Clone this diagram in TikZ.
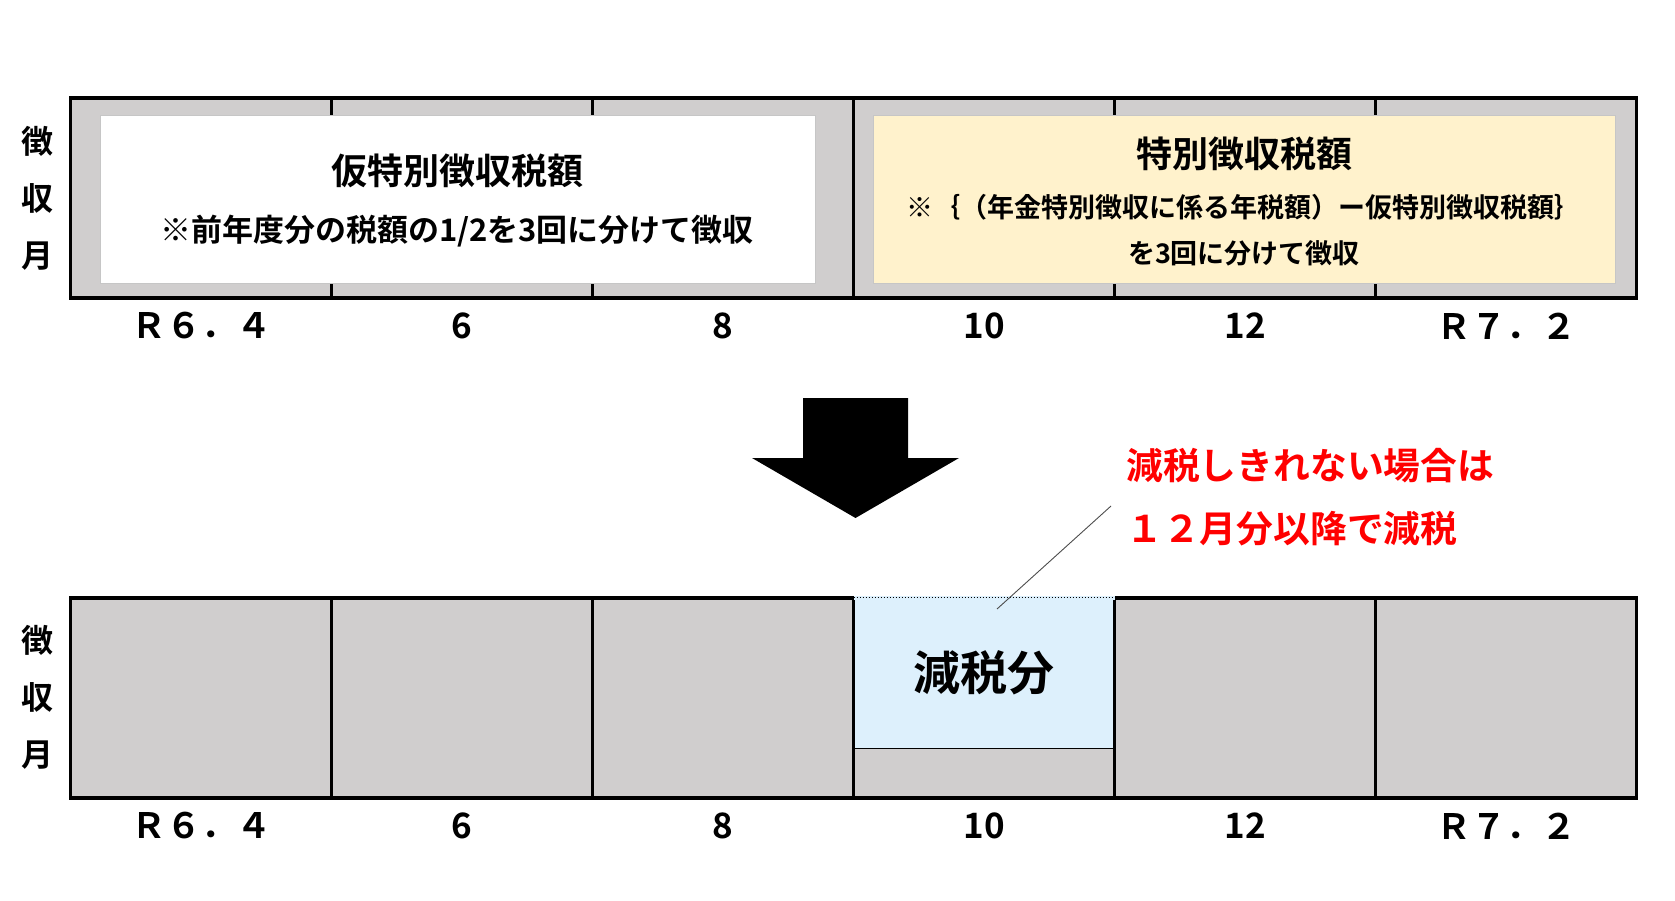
\documentclass[tikz,border=0pt]{standalone}
\usepackage{fontspec}
\setmainfont{Noto Sans CJK JP}[BoldFont={* Bold}]
\definecolor{cellgray}{HTML}{D0CECE}
\definecolor{ybg}{HTML}{FFF2CC}
\definecolor{bbg}{HTML}{DDF0FC}
\definecolor{redtxt}{HTML}{FF0000}
\begin{document}
\begin{tikzpicture}[x=1pt,y=-1pt,
  cell/.style={draw=black, line width=2.5pt, fill=cellgray, minimum width=261pt, minimum height=200pt, inner sep=0pt, outer sep=0pt},
  innerbox/.style={draw=gray!45, line width=1pt, inner sep=0pt, outer sep=0pt},
  sidelbl/.style={font=\bfseries\fontsize{32}{57}\selectfont, align=center, inner sep=0pt},
  ttl/.style={font=\bfseries\fontsize{36}{40}\selectfont, inner sep=0pt},
  subt/.style={font=\bfseries\fontsize{31}{34}\selectfont, inner sep=0pt},
  ysubt/.style={font=\bfseries\fontsize{27}{30}\selectfont, inner sep=0pt},
  monlbl/.style={font=\bfseries\fontsize{35}{40}\selectfont, inner sep=0pt},
  redt/.style={font=\bfseries\fontsize{36.8}{40}\selectfont, text=redtxt, inner sep=0pt, anchor=west},
  bigt/.style={font=\bfseries\fontsize{47}{52}\selectfont, inner sep=0pt}]
\useasboundingbox (0,0) rectangle (1675,901);

% ---- top bar ----
\foreach \i in {0,...,5}
  \node[cell] (t\i) at ({201+261*\i},198) {};
\draw[line width=3.5pt] (t0.north west) rectangle (t5.south east);
\node[innerbox, fill=white, minimum width=715pt, minimum height=167pt] (wbox) at (457.5,199.5) {};
\node[innerbox, fill=ybg, minimum width=742pt, minimum height=167pt] (ybox) at (1244,199.5) {};
\node[ttl] (wt) at (457,171) {仮特別徴収税額};
\node[subt] (ws) at (457,231) {※前年度分の税額の1/2を3回に分けて徴収};
\node[ttl] (yt) at (1244,154) {特別徴収税額};
\node[ysubt] (ys1) at (1244,207) {※｛（年金特別徴収に係る年税額）ー仮特別徴収税額｝};
\node[ysubt] (ys2) at (1244,253) {を3回に分けて徴収};
\node[sidelbl] (side1) at (37,198) {徴\\収\\月};
\foreach \t [count=\i from 0] in {Ｒ６．４,6,8,10,12,Ｒ７．２}
  \node[monlbl] (tl\i) at ({201+261*\i},326) {\t};

% ---- arrow ----
\fill[black] (803,398) -- (908,398) -- (908,458) -- (959,458) -- (855.5,518) -- (752,458) -- (803,458) -- cycle;

% ---- red note ----
\node[redt] (r1) at (1126,466) {減税しきれない場合は};
\node[redt] (r2) at (1126,529) {１２月分以降で減税};

% ---- bottom bar ----
\foreach \i in {0,...,5}
  \node[cell] (b\i) at ({201+261*\i},698) {};
\draw[line width=3.5pt] (b0.north west) rectangle (b5.south east);
\node[fill=bbg, inner sep=0pt, outer sep=0pt, minimum width=261pt, minimum height=153pt] (blue) at (984,672) {};
\draw[line width=1pt] (blue.south west) -- (blue.south east);
\draw[dotted, line width=1pt] ([yshift=-1.5pt]blue.north west) -- ([yshift=-1.5pt]blue.north east);
\draw[line width=2.5pt] ([yshift=-1.75pt]b3.north west) -- (b3.south west);
\draw[line width=2.5pt] ([yshift=-1.75pt]b3.north east) -- (b3.south east);
\node[bigt] (bt) at (984,673) {減税分};
\node[sidelbl] (side2) at (37,697) {徴\\収\\月};
\foreach \t [count=\i from 0] in {Ｒ６．４,6,8,10,12,Ｒ７．２}
  \node[monlbl] (bl\i) at ({201+261*\i},826) {\t};

% ---- leader line ----
\coordinate (ls) at (1111,506);
\coordinate (le) at (997,609);
\draw[black!70, line width=0.9pt] (ls) -- (le);
\end{tikzpicture}
\end{document}
